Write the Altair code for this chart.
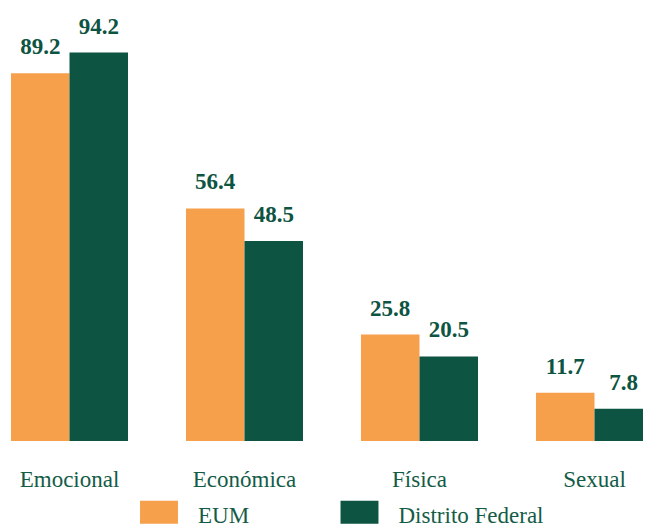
import altair as alt
import pandas as pd

categories = ["Emocional", "Económica", "Física", "Sexual"]
series = ["EUM", "Distrito Federal"]
eum = [89.2, 56.4, 25.8, 11.7]
df_vals = [94.2, 48.5, 20.5, 7.8]

ORANGE = "#F7A04C"
GREEN = "#0D5442"
TEXT = "#145C47"
FONT = "Liberation Serif"

rows = []
for c, a, b in zip(categories, eum, df_vals):
    rows.append({"cat": c, "serie": series[0], "val": a})
    rows.append({"cat": c, "serie": series[1], "val": b})
data = pd.DataFrame(rows)

x = alt.X("cat:N", sort=categories, title=None,
          scale=alt.Scale(range=[3, 645], paddingInner=0.3314, paddingOuter=0),
          axis=alt.Axis(labelAngle=0, labelFont=FONT, labelFontSize=23, labelColor=TEXT,
                        ticks=False, tickSize=0, domain=False, labelPadding=27, grid=False))
xo = alt.XOffset("serie:N", sort=series, scale=alt.Scale(paddingInner=0, paddingOuter=0))
y = alt.Y("val:Q", scale=alt.Scale(domain=[0, 105], nice=False), axis=None)

bars = alt.Chart(data).mark_bar().encode(
    x=x, xOffset=xo, y=y,
    color=alt.Color("serie:N", sort=series,
                    scale=alt.Scale(domain=series, range=[ORANGE, GREEN]),
                    legend=alt.Legend(title=None, orient="none", legendX=139.5, legendY=496,
                                      direction="horizontal",
                                      symbolType="M-1.65,-1.3H1.65V0.7H-1.65Z",
                                      symbolSize=529, symbolStrokeWidth=0,
                                      labelFont=FONT, labelFontSize=23, labelColor=TEXT,
                                      labelOffset=27.5, columnPadding=90.5, padding=0,
                                      labelLimit=400))
)

labels = alt.Chart(data).mark_text(
    font=FONT, fontSize=23, fontWeight="bold", color=GREEN,
    baseline="alphabetic", dy=-19
).encode(x=x, xOffset=xo, y=y, text=alt.Text("val:Q", format=".1f"))

chart = (bars + labels).properties(
    width=635, height=433,
    autosize=alt.AutoSizeParams(type="none"),
    padding={"left": 0, "top": 0, "right": 0, "bottom": 89},
).configure_view(stroke=None)

chart.save("out.html", embed_options={"renderer": "svg", "actions": False})
